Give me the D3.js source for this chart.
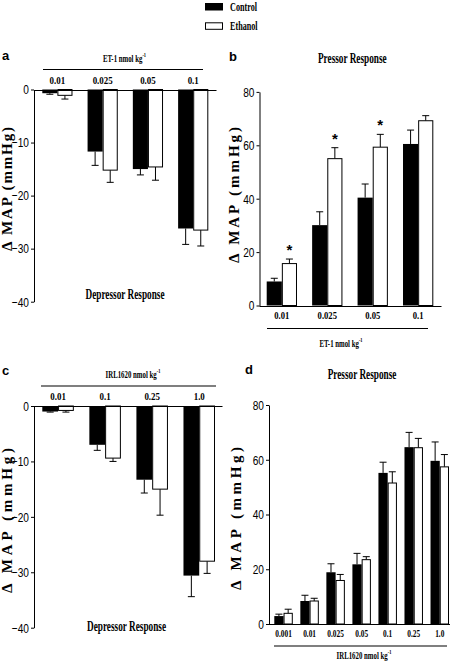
<!DOCTYPE html>
<html><head><meta charset="utf-8">
<script src="https://cdn.jsdelivr.net/npm/d3@7"></script>
<style>html,body{margin:0;padding:0;background:#fff;}</style>
</head><body>
<script>
// ---------- data ----------
const seriesNames = ["Control", "Ethanol"];
const yTicksDepressor = [0, -10, -20, -30, -40];
const yTicksPressor = [0, 20, 40, 60, 80];

const dosesET = ["0.01", "0.025", "0.05", "0.1"];
const dosesIRLdep = ["0.01", "0.1", "0.25", "1.0"];
const dosesIRLpress = ["0.001", "0.01", "0.025", "0.05", "0.1", "0.25", "1.0"];

// a: ET-1 depressor
const controlA = [-0.7, -11.7, -15.0, -26.2];
const controlAErr = [0.2, 2.6, 1.1, 3.0];
const ethanolA = [-1.1, -15.2, -14.6, -26.5];
const ethanolAErr = [0.7, 2.3, 2.5, 3.0];
// b: ET-1 pressor
const controlB = [9.0, 30.1, 40.4, 60.5];
const controlBErr = [1.2, 5.0, 5.1, 5.2];
const ethanolB = [15.7, 55.0, 59.3, 69.2];
const ethanolBErr = [1.7, 4.1, 4.8, 1.9];
const significantB = [true, true, true, false];
// c: IRL1620 depressor
const controlC = [-1.0, -7.0, -13.3, -30.6];
const controlCErr = [0.1, 1.0, 2.4, 3.8];
const ethanolC = [-0.8, -9.4, -15.0, -28.0];
const ethanolCErr = [0.3, 0.6, 4.7, 2.2];
// d: IRL1620 pressor
const controlD = [2.9, 8.4, 18.9, 21.8, 55.2, 64.6, 59.6];
const controlDErr = [0.7, 2.1, 3.1, 4.0, 3.9, 5.4, 6.9];
const ethanolD = [3.9, 8.4, 15.9, 23.5, 51.5, 64.4, 57.4];
const ethanolDErr = [1.5, 1.0, 2.2, 1.1, 4.1, 3.4, 4.5];

const yAxisTitle = "\u0394 MAP (mmHg)";
const depressorTitle = "Depressor Response";
const pressorTitle = "Pressor Response";
const etUnit = "ET-1  nmol kg";
const irlUnit = "IRL1620  nmol kg";
const unitSup = "-1";
const panelLetters = ["a", "b", "c", "d"];

// ---------- drawing ----------
const serif = "'Liberation Serif','Times New Roman',serif";
const sans = "'Liberation Sans',Arial,sans-serif";
const svg = d3.select("body").append("svg").attr("width", 456).attr("height", 667);

function squeezed(g, x, y, k, str, o) {
  const t = g.append("text")
    .attr("transform", `translate(${x},${y}) scale(${k},1)`)
    .attr("text-anchor", o.anchor || "middle")
    .attr("font-family", o.family || serif)
    .attr("font-size", o.size)
    .attr("font-weight", o.weight || "bold")
    .attr("fill", "#000");
  t.append("tspan").text(str);
  if (o.sup) t.append("tspan").attr("font-size", o.size * 0.65).attr("dy", -o.size * 0.42).text(o.sup);
  return t;
}

function drawPanel(p) {
  const g = svg.append("g");
  const x = d3.scaleBand().domain(p.doses).range(p.xRange).paddingInner(p.padInner).paddingOuter(0);
  const xs = d3.scaleBand().domain(seriesNames).range([0, x.bandwidth()]);
  const y = d3.scaleLinear().domain(p.yDomain).range(p.yRange);
  const y0 = y(0);

  const rows = [];
  p.doses.forEach((d, i) => {
    rows.push({ dose: d, s: "Control", v: p.ctrl[i], e: p.ctrlErr[i] });
    rows.push({ dose: d, s: "Ethanol", v: p.eth[i], e: p.ethErr[i] });
  });
  const cx = r => x(r.dose) + xs(r.s) + xs.bandwidth() / 2;
  const errEnd = r => r.v + (r.v < 0 ? -r.e : r.e);

  const eb = g.append("g").attr("stroke", "#000").attr("stroke-width", 1);
  eb.selectAll("line.stem").data(rows).join("line").attr("class", "stem")
    .attr("x1", cx).attr("x2", cx).attr("y1", r => y(r.v)).attr("y2", r => y(errEnd(r)));
  eb.selectAll("line.cap").data(rows).join("line").attr("class", "cap")
    .attr("x1", r => cx(r) - 3.5).attr("x2", r => cx(r) + 3.5)
    .attr("y1", r => y(errEnd(r))).attr("y2", r => y(errEnd(r)));

  g.append("g").selectAll("rect").data(rows).join("rect")
    .attr("x", r => x(r.dose) + xs(r.s) + (r.s === "Ethanol" ? 0.5 : 0))
    .attr("width", r => xs.bandwidth() - (r.s === "Ethanol" ? 1 : 0))
    .attr("y", r => Math.min(y(r.v), y0))
    .attr("height", r => Math.abs(y(r.v) - y0))
    .attr("fill", r => r.s === "Control" ? "#000" : "#fff")
    .attr("stroke", r => r.s === "Control" ? "none" : "#000")
    .attr("stroke-width", 1);

  const ky = 0.75;
  const ay = g.append("g").attr("transform", `translate(${p.axisX},0)`)
    .call(d3.axisLeft(y).tickValues(p.ticks).tickSize(3).tickSizeOuter(0).tickPadding(2));
  ay.selectAll("text")
    .attr("font-family", sans).attr("font-size", 13.5)
    .attr("x", -5 / ky).attr("transform", `scale(${ky},1)`);

  g.append("line").attr("x1", p.axisX).attr("x2", p.axisEnd)
    .attr("y1", Math.round(y0) + 0.5).attr("y2", Math.round(y0) + 0.5)
    .attr("stroke", "#000").attr("stroke-width", 1);

  const axFn = p.labelsTop ? d3.axisTop(x) : d3.axisBottom(x);
  const ax = g.append("g").attr("transform", `translate(0,${y0})`)
    .call(axFn.tickSize(0).tickPadding(p.labelPad));
  ax.select(".domain").remove();
  ax.selectAll("text").attr("font-family", serif).attr("font-weight", "bold")
    .attr("font-size", 10.5).attr("transform", `scale(${p.labelK},1)`);

  g.append("line").attr("x1", p.bracket[0]).attr("x2", p.bracket[1])
    .attr("y1", p.bracketY).attr("y2", p.bracketY).attr("stroke", "#000").attr("stroke-width", 1.2);
  squeezed(g, p.unitPos[0], p.unitPos[1], 0.62, p.unit, { size: 11, sup: unitSup });

  squeezed(g, p.titlePos[0], p.titlePos[1], 0.66, p.title, { size: 14 });

  g.append("text")
    .attr("transform", `translate(${p.yTitlePos[0]},${p.yTitlePos[1]}) rotate(-90)`)
    .attr("text-anchor", "middle").attr("font-family", serif).attr("font-weight", "bold")
    .attr("font-size", 15).attr("textLength", p.yTitleLen).attr("lengthAdjust", "spacing")
    .text(yAxisTitle);

  g.append("text").attr("x", p.letterPos[0]).attr("y", p.letterPos[1])
    .attr("font-family", sans).attr("font-weight", "bold").attr("font-size", 13)
    .text(p.letter);

  if (p.sig) {
    g.selectAll("text.star").data(rows.filter(r => r.s === "Ethanol" && p.sig[p.doses.indexOf(r.dose)]))
      .join("text").attr("class", "star")
      .attr("x", cx).attr("y", r => y(errEnd(r)) - 4)
      .attr("text-anchor", "middle").attr("font-family", sans).attr("font-weight", "bold")
      .attr("font-size", 15).text("*");
  }
}

drawPanel({
  letter: panelLetters[0], letterPos: [2, 60],
  doses: dosesET, ctrl: controlA, ctrlErr: controlAErr, eth: ethanolA, ethErr: ethanolAErr,
  yDomain: [-40, 0], yRange: [301.7, 89.5], ticks: yTicksDepressor,
  xRange: [42.3, 208.3], padInner: 1 / 3, axisX: 34, axisEnd: 216.5,
  labelsTop: true, labelPad: 6, labelK: 0.85,
  bracket: [43, 203], bracketY: 69.5, unit: etUnit, unitPos: [124.5, 61.5],
  title: depressorTitle, titlePos: [125, 299],
  yTitlePos: [12, 189], yTitleLen: 124
});
drawPanel({
  letter: panelLetters[1], letterPos: [229, 61], sig: significantB,
  doses: dosesET, ctrl: controlB, ctrlErr: controlBErr, eth: ethanolB, ethErr: ethanolBErr,
  yDomain: [0, 80], yRange: [305.5, 91.9], ticks: yTicksPressor,
  xRange: [266.7, 433.3], padInner: 1 / 3, axisX: 259.5, axisEnd: 441.5,
  labelsTop: false, labelPad: 6, labelK: 0.82,
  bracket: [267, 428], bracketY: 328.5, unit: etUnit, unitPos: [341, 346.5],
  title: pressorTitle, titlePos: [352.3, 62.5],
  yTitlePos: [239, 195], yTitleLen: 136
});
drawPanel({
  letter: panelLetters[2], letterPos: [2, 375],
  doses: dosesIRLdep, ctrl: controlC, ctrlErr: controlCErr, eth: ethanolC, ethErr: ethanolCErr,
  yDomain: [-40, 0], yRange: [627.7, 406], ticks: yTicksDepressor,
  xRange: [42.3, 215], padInner: 0.33, axisX: 34, axisEnd: 222.5,
  labelsTop: true, labelPad: 6, labelK: 0.85,
  bracket: [41, 216], bracketY: 386, unit: irlUnit, unitPos: [133, 377.5],
  title: depressorTitle, titlePos: [126.5, 630.5],
  yTitlePos: [12, 520.5], yTitleLen: 145
});
drawPanel({
  letter: panelLetters[3], letterPos: [245, 374],
  doses: dosesIRLpress, ctrl: controlD, ctrlErr: controlDErr, eth: ethanolD, ethErr: ethanolDErr,
  yDomain: [0, 80], yRange: [624, 405], ticks: yTicksPressor,
  xRange: [274.3, 449], padInner: 0.29, axisX: 269, axisEnd: 450,
  labelsTop: false, labelPad: 6, labelK: 0.7,
  bracket: [274, 447], bracketY: 646, unit: irlUnit, unitPos: [364, 659],
  title: pressorTitle, titlePos: [362, 379],
  yTitlePos: [241, 518.5], yTitleLen: 143
});

const lg = svg.append("g");
seriesNames.forEach((s, i) => {
  const ly = 3.5 + i * 19.3;
  lg.append("rect").attr("x", 205.5).attr("y", ly).attr("width", 17).attr("height", 6.5)
    .attr("fill", s === "Control" ? "#000" : "#fff").attr("stroke", "#000").attr("stroke-width", 1);
  squeezed(lg, 230, ly + 7.3, 0.68, s, { size: 12, anchor: "start" });
});
</script>
</body></html>
